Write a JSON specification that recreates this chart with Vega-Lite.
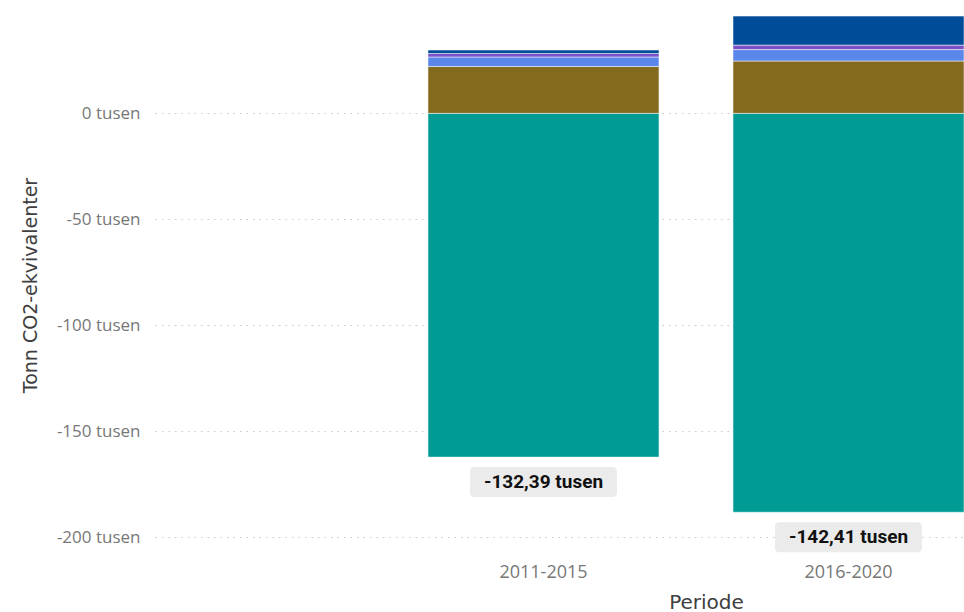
{
  "$schema": "https://vega.github.io/schema/vega-lite/v6.json",
  "width": 809,
  "height": 537,
  "autosize": {"type": "none"},
  "padding": {"left": 155, "top": 0, "right": 0, "bottom": 75},
  "background": "white",
  "config": {
    "font": "Open Sans",
    "view": {"stroke": null},
    "locale": {"number": {"decimal": ",", "thousands": " ", "grouping": [3], "currency": ["", ""], "minus": "-"}}
  },
  "data": {
    "values": [
      {"periode": "2011-2015", "kategori": "Skog", "verdi": -162.29},
      {"periode": "2011-2015", "kategori": "Dyrka mark", "verdi": 22.1},
      {"periode": "2011-2015", "kategori": "Myr", "verdi": 4.5},
      {"periode": "2011-2015", "kategori": "Tettsted", "verdi": 1.65},
      {"periode": "2011-2015", "kategori": "Vann", "verdi": 1.65},
      {"periode": "2016-2020", "kategori": "Skog", "verdi": -188.31},
      {"periode": "2016-2020", "kategori": "Dyrka mark", "verdi": 24.7},
      {"periode": "2016-2020", "kategori": "Myr", "verdi": 5.4},
      {"periode": "2016-2020", "kategori": "Tettsted", "verdi": 2.1},
      {"periode": "2016-2020", "kategori": "Vann", "verdi": 13.7}
    ]
  },
  "encoding": {
    "x": {
      "field": "periode",
      "type": "nominal",
      "title": "Periode",
      "scale": {"paddingInner": 0.2426, "paddingOuter": 0.4475, "align": 1},
      "axis": {
        "labelAngle": 0,
        "domain": false,
        "ticks": false,
        "tickSize": 0,
        "labelPadding": 26,
        "labelFont": "Open Sans",
        "labelFontSize": 18,
        "labelColor": "#777777",
        "titleFont": "DejaVu Sans",
        "titleFontSize": 20,
        "titleFontWeight": "normal",
        "titleColor": "#404040",
        "titleX": 551,
        "titleY": 71,
        "titleBaseline": "alphabetic"
      }
    }
  },
  "layer": [
    {
      "mark": {"type": "bar", "stroke": "white", "strokeWidth": 1, "strokeOpacity": 0.5},
      "encoding": {
        "y": {
          "aggregate": "sum",
          "field": "verdi",
          "type": "quantitative",
          "title": "Tonn CO2-ekvivalenter",
          "scale": {"domain": [-200, 53.5], "nice": false, "zero": false},
          "axis": {
            "values": [-200, -150, -100, -50, 0],
            "labelExpr": "datum.label + ' tusen'",
            "domain": false,
            "ticks": false,
            "tickSize": 0,
            "labelPadding": 15,
            "labelFont": "Open Sans",
            "labelFontSize": 17,
            "labelColor": "#777777",
            "grid": true,
            "gridColor": "#c8c8c8",
            "gridDash": [1.5, 5],
            "gridWidth": 1,
            "titleFont": "DejaVu Sans",
            "titleFontSize": 19,
            "titleFontWeight": "normal",
            "titleColor": "#404040",
            "titleX": -125,
            "titleY": 285,
            "titleBaseline": "middle",
            "titleAlign": "center"
          }
        },
        "color": {
          "field": "kategori",
          "type": "nominal",
          "scale": {
            "domain": ["Skog", "Dyrka mark", "Myr", "Tettsted", "Vann"],
            "range": ["#009b95", "#846a1e", "#5b87eb", "#7a50c8", "#004c98"]
          },
          "legend": null
        },
        "order": {"field": "kategori", "sort": "ascending"}
      }
    },
    {
      "transform": [
        {"aggregate": [{"op": "sum", "field": "verdi", "as": "total"}, {"op": "min", "field": "verdi", "as": "bunn"}], "groupby": ["periode"]}
      ],
      "mark": {"type": "bar", "width": 147, "cornerRadius": 4, "color": "#ebebeb", "yOffset": 10, "y2Offset": 40},
      "encoding": {
        "y": {"field": "bunn", "type": "quantitative"},
        "y2": {"field": "bunn"}
      }
    },
    {
      "transform": [
        {"aggregate": [{"op": "sum", "field": "verdi", "as": "total"}, {"op": "min", "field": "verdi", "as": "bunn"}], "groupby": ["periode"]}
      ],
      "mark": {
        "type": "text",
        "font": "Roboto",
        "fontWeight": "bold",
        "fontSize": 19,
        "color": "#111111",
        "baseline": "middle",
        "align": "center",
        "yOffset": 25,
        "text": {"expr": "format(datum.total, '.2f') + ' tusen'"}
      },
      "encoding": {
        "y": {"field": "bunn", "type": "quantitative"}
      }
    }
  ]
}
